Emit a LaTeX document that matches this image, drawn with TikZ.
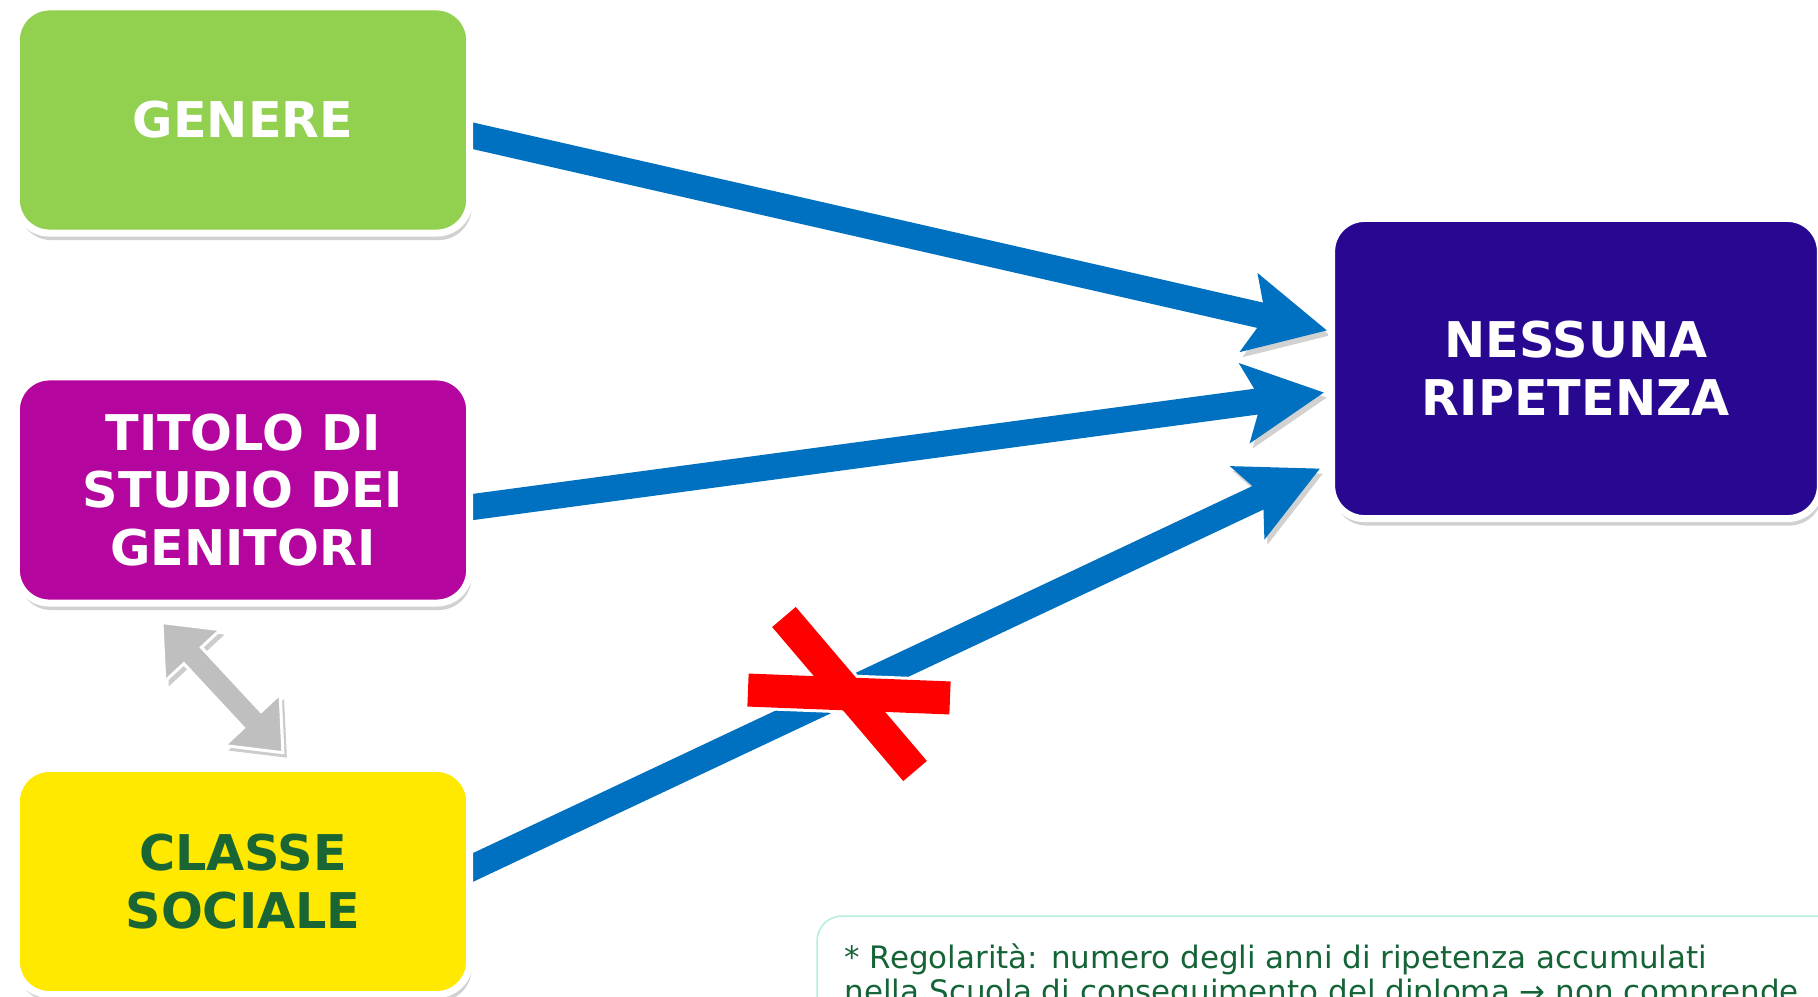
\documentclass[tikz,border=0pt]{standalone}
\usepackage{fontspec}
\setmainfont{DejaVu Sans}
\usepackage{tikz}
\usetikzlibrary{calc, arrows.meta, shadows, backgrounds}
\usepackage{xcolor}
\definecolor{verde}{RGB}{146,208,80}
\definecolor{magenta}{RGB}{180,5,158}
\definecolor{indaco}{RGB}{41,8,145}
\definecolor{giallo}{RGB}{255,233,0}
\definecolor{verdescuro}{RGB}{26,101,52}
\definecolor{azzurro}{RGB}{0,112,192}
\definecolor{rosso}{RGB}{255,0,0}
\definecolor{grigio}{RGB}{191,191,191}
\definecolor{menta}{RGB}{178,240,216}
\definecolor{notaverde}{RGB}{20,100,55}

\begin{document}
\begin{tikzpicture}[x=0.01cm, y=-0.01cm]
        % 样式:圆角方框,白色粗边,带阴影
        \tikzstyle{fattore}=[rectangle, rounded corners=0.33cm, draw=white, line width=0.07cm, minimum width=4.53cm, minimum height=2.26cm, inner sep=0pt, align=center, text=white, font=\bfseries\fontsize{14pt}{16.4pt}\selectfont, drop shadow={shadow xshift=0.02cm, shadow yshift=-0.07cm, opacity=0.3, fill=black!60}]
        \tikzstyle{ombra}=[preaction={draw=black, opacity=0.18, transform canvas={shift={(0.03cm,-0.05cm)}}}]
        \tikzstyle{ombrapiena}=[preaction={fill=black, opacity=0.2, transform canvas={shift={(0.04cm,-0.05cm)}}}]
        \tikzstyle{freccia}=[ombra, draw=azzurro, line width=0.26cm, -{Stealth[length=0.79cm, width=0.78cm, inset=0.16cm]}]
        \tikzstyle{barra}=[line cap=rect]
        \tikzstyle{nota}=[anchor=base west, inner sep=0pt, text=notaverde, font=\fontsize{8.8pt}{10pt}\selectfont]

        % 画布大小 (像素坐标, y 向下)
        \useasboundingbox (0,0) rectangle (1818,997);
        \clip (0,0) rectangle (1818,997);

        % 四个方框
        \node[fattore, fill=verde] (genere) at (243,120) {GENERE};
        \node[fattore, fill=magenta] (titolo) at (243,490) {TITOLO DI\\STUDIO DEI\\GENITORI};
        \node[fattore, fill=giallo, text=verdescuro] (classe) at (243,881.5) {CLASSE\\SOCIALE};
        \node[fattore, fill=indaco, minimum width=4.885cm, minimum height=3cm] (esito) at (1576,368.5) {NESSUNA\\RIPETENZA};

        % 蓝色箭头 (从方框下面出来)
        \begin{scope}[on background layer]
            \draw[freccia] ($(genere.east)+(-30,9)$) -- ($(esito.west)+(-1,-38)$);
            \draw[freccia] ($(titolo.east)+(-30,21)$) -- ($(esito.west)+(-4,24)$);
            \draw[freccia] ($(classe.east)+(-30,0)$) -- ($(esito.west)+(-8,100)$);
        \end{scope}

        % 灰色双向箭头
        \begin{scope}[shift={($(titolo.south)+(-81,16)$)}, rotate=-47.1]
            \filldraw[ombrapiena, fill=grigio, draw=white, line width=0.03cm] (0,0) -- (45,38) -- (45,12) -- (132.6,12) -- (132.6,38) -- (177.6,0) -- (132.6,-38) -- (132.6,-12) -- (45,-12) -- (45,-38) -- cycle;
        \end{scope}

        % 红色叉号
        \draw[barra, ombra, white, line width=0.39cm] (764.5,690.7) -- (933.5,697.3);
        \draw[barra, ombra, white, line width=0.37cm] (794,628.8) -- (905,759.2);
        \draw[barra, rosso, line width=0.33cm] (764.5,690.7) -- (933.5,697.3);
        \draw[barra, rosso, line width=0.31cm] (794,628.8) -- (905,759.2);

        % 底部注释
        \draw[menta, line width=0.015cm, rounded corners=0.25cm] (817,916) rectangle (1900,1100);
        \node[nota] (nota1) at (844,968) {* Regolarità: numero degli anni di ripetenza accumulati};
        \node[nota] (nota2) at (844,1002) {nella Scuola di conseguimento del diploma → non comprende};
    \end{tikzpicture}
\end{document}
